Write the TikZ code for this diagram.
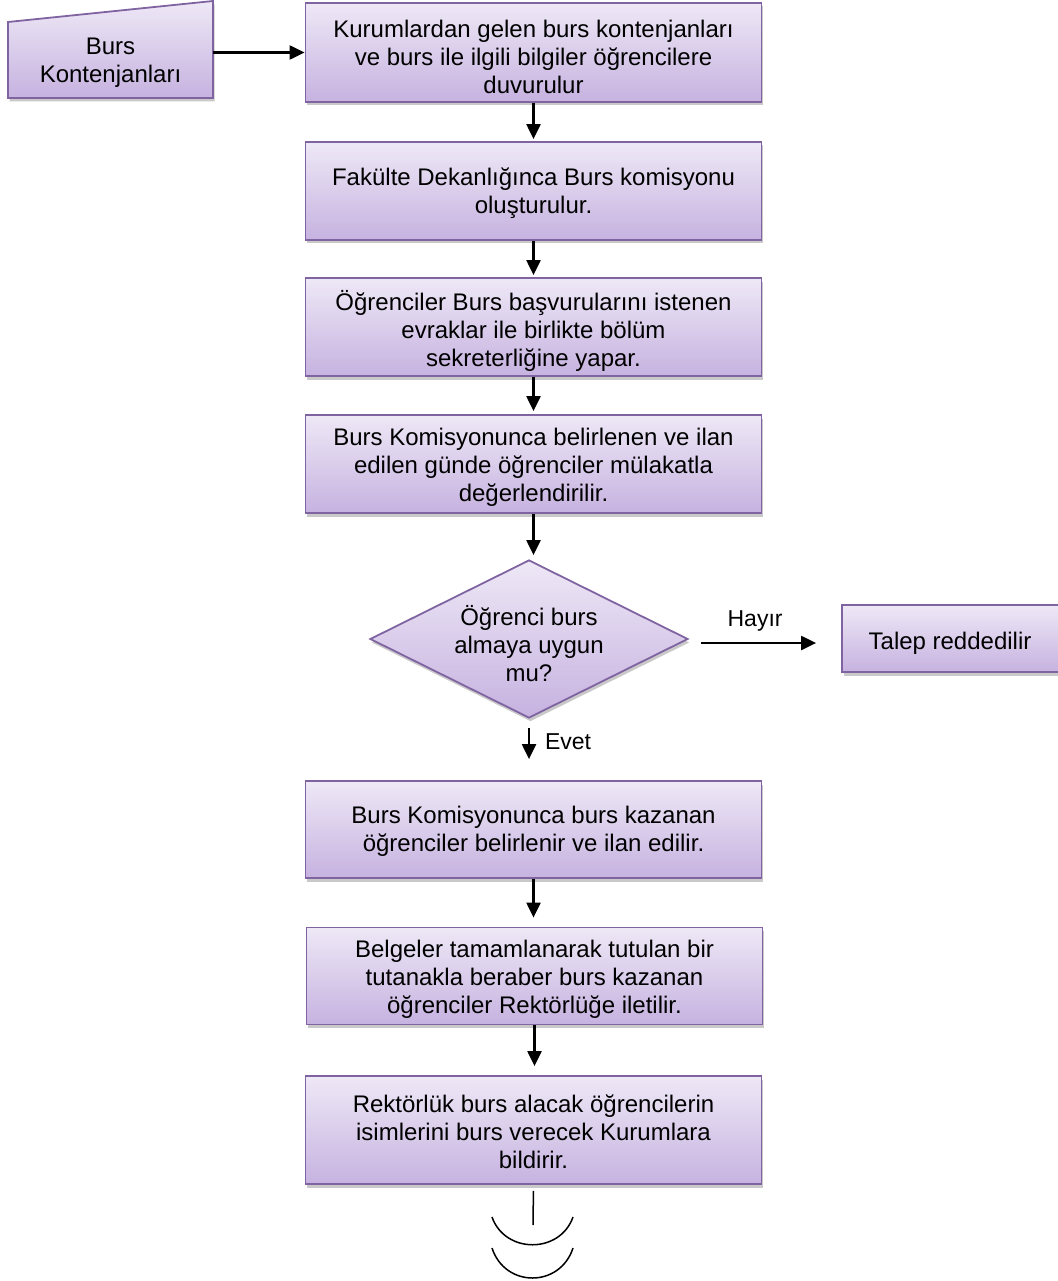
\documentclass[tikz,border=0pt]{standalone}
\usepackage{fontspec}
\setmainfont{Liberation Sans}
\usetikzlibrary{shapes.geometric,arrows.meta,shadows}
\definecolor{bord}{HTML}{8064A2}
\definecolor{topc}{HTML}{EEE8F6}
\definecolor{botc}{HTML}{C6B2E0}
\tikzset{
  shade/.style={top color=topc, bottom color=botc, draw=bord, line width=1.8pt,
    drop shadow={shadow xshift=1.5pt, shadow yshift=-3.5pt, opacity=0.3, fill=black!70}},
  proc/.style={shade, rectangle, minimum width=456pt, inner sep=0pt},
  txt/.style={align=center, inner sep=0pt, font=\fontsize{24}{28}\selectfont},
  dia/.style={shade, diamond, minimum width=318pt, minimum height=158pt, inner sep=0pt},
  arr/.style={line width=2.2pt, -{Triangle[length=15pt,width=14pt]}},
  lbl/.style={inner sep=0pt, font=\fontsize{23}{27}\selectfont},
  thin/.style={line width=1.5pt}
}
\begin{document}
\begin{tikzpicture}[x=1pt,y=-1pt]
\useasboundingbox (0,0) rectangle (1057,1281);
% manual input shape
\path[shade] (8,22) -- (213,1) -- (213,98) -- (8,98) -- cycle;
\node[txt, minimum width=205pt, minimum height=78pt] (src) at (110.5,63) {Burs\\Kontenjanları};

\node[proc, minimum height=99pt] (b1) at (533.5,52.5) {};
\node[txt] (t1) at ([yshift=-4pt]b1.center) {Kurumlardan gelen burs kontenjanları\\ve burs ile ilgili bilgiler öğrencilere\\duvurulur};
\node[proc, minimum height=98pt] (b2) at (533.5,191) {};
\node[txt] (t2) at ([yshift=-2pt]b2.center) {Fakülte Dekanlığınca Burs komisyonu\\oluşturulur.};
\node[proc, minimum height=98pt] (b3) at (533.5,327) {};
\node[txt] (t3) at ([yshift=-4pt]b3.center) {Öğrenciler Burs başvurularını istenen\\evraklar ile birlikte bölüm\\sekreterliğine yapar.};
\node[proc, minimum height=98pt] (b4) at (533.5,464) {};
\node[txt] (t4) at ([yshift=-3pt]b4.center) {Burs Komisyonunca belirlenen ve ilan\\edilen günde öğrenciler mülakatla\\değerlendirilir.};
\node[dia] (d) at (529,639) {};
\node[txt] (dt) at (529,644) {Öğrenci burs\\almaya uygun\\mu?};
\node[shade, rectangle, minimum width=220pt, minimum height=67pt, inner sep=0pt] (talep) at (952,638.5) {};
\node[txt] (tt) at (950,643) {Talep reddedilir};
\node[proc, minimum height=97pt] (b5) at (533.5,829.5) {};
\node[txt] (t5) at ([yshift=-2pt]b5.center) {Burs Komisyonunca burs kazanan\\öğrenciler belirlenir ve ilan edilir.};
\node[proc, minimum height=97pt] (b6) at (534.5,976) {};
\node[txt] (t6) at ([yshift=-3pt]b6.center) {Belgeler tamamlanarak tutulan bir\\tutanakla beraber burs kazanan\\öğrenciler Rektörlüğe iletilir.};
\node[proc, minimum height=108pt] (b7) at (533.5,1130) {};
\node[txt] (t7) at ([yshift=-2pt]b7.center) {Rektörlük burs alacak öğrencilerin\\isimlerini burs verecek Kurumlara\\bildirir.};

% connectors
\draw[arr] (src.east |- b1.west) -- (b1.west);
\draw[arr, shorten >=2pt] (b1.south) -- (b2.north);
\draw[arr, shorten >=2pt] (b2.south) -- (b3.north);
\draw[arr, shorten >=3pt] (b3.south) -- (b4.north);
\draw[arr, shorten >=4pt] (b4.south) -- (b4.south |- d.north);
\draw[arr, shorten <=12pt, shorten >=25pt] ([yshift=-4pt]d.east) -- ([yshift=-4pt]d.east -| talep.west)
  node[pos=0.435, above=11pt, lbl] {Hayır};
\draw[arr, shorten <=9pt, shorten >=21pt] (d.south) -- (d.south |- b5.north)
  node[pos=0.38, right=15pt, lbl] {Evet};
\draw[arr, shorten >=9pt] (b5.south) -- (b5.south |- b6.north);
\draw[arr, shorten >=9pt] (b6.south) -- (b6.south |- b7.north);

% terminal line and arcs
\coordinate (e1) at (533,1225);
\draw[thin, shorten <=6pt] (b7.south) -- (e1);
\coordinate (a1) at (492,1217);
\coordinate (a2) at (573,1217);
\coordinate (c1) at (492,1248);
\coordinate (c2) at (573,1248);
\draw[thin] (a1) .. controls (505,1254) and (560,1254) .. (a2);
\draw[thin] (c1) .. controls (505,1288) and (560,1288) .. (c2);
\end{tikzpicture}
\end{document}
